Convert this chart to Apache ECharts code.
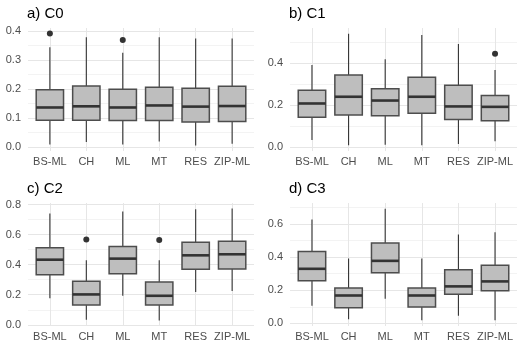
<!DOCTYPE html>
<html lang="en">
<head>
<meta charset="UTF-8">
<title>Boxplots C0-C3</title>
<script src="https://cdn.jsdelivr.net/npm/echarts@6/dist/echarts.min.js"></script>
</head>
<body style="margin:0;background:#fff">
<div id="main" style="width:523px;height:349px"></div>
<script>
var categories = ['BS-ML', 'CH', 'ML', 'MT', 'RES', 'ZIP-ML'];
var panelTitles = ['a) C0', 'b) C1', 'c) C2', 'd) C3'];

// a) C0
var c0Low = [0.008, 0.017, 0.008, 0.019, 0.005, 0.011];
var c0Q1 = [0.092, 0.092, 0.091, 0.091, 0.086, 0.088];
var c0Med = [0.136, 0.140, 0.136, 0.143, 0.139, 0.141];
var c0Q3 = [0.197, 0.210, 0.199, 0.206, 0.202, 0.209];
var c0High = [0.344, 0.378, 0.325, 0.378, 0.374, 0.374];
var c0Out = [[0, 0.391], [2, 0.369]];
// b) C1
var c1Low = [0.033, 0.008, 0.011, 0.008, 0.014, 0.027];
var c1Q1 = [0.141, 0.152, 0.149, 0.160, 0.131, 0.125];
var c1Med = [0.207, 0.239, 0.221, 0.239, 0.193, 0.191];
var c1Q3 = [0.270, 0.343, 0.277, 0.332, 0.294, 0.245];
var c1High = [0.390, 0.539, 0.417, 0.533, 0.490, 0.366];
var c1Out = [[5, 0.444]];
// c) C2
var c2Low = [0.176, 0.033, 0.193, 0.029, 0.218, 0.224];
var c2Q1 = [0.333, 0.131, 0.340, 0.131, 0.369, 0.371];
var c2Med = [0.433, 0.202, 0.440, 0.193, 0.462, 0.469];
var c2Q3 = [0.513, 0.289, 0.520, 0.284, 0.549, 0.556];
var c2High = [0.740, 0.429, 0.753, 0.429, 0.769, 0.773];
var c2Out = [[1, 0.567], [3, 0.564]];
// d) C3
var c3Low = [0.106, 0.024, 0.148, 0.018, 0.046, 0.018];
var c3Q1 = [0.257, 0.094, 0.305, 0.098, 0.175, 0.197];
var c3Med = [0.329, 0.168, 0.377, 0.168, 0.223, 0.253];
var c3Q3 = [0.433, 0.213, 0.485, 0.213, 0.323, 0.351];
var c3High = [0.626, 0.391, 0.692, 0.391, 0.536, 0.550];
var c3Out = [];

// y tick labels (major) and minor grid steps per panel
var yMajor = [[0, 0.1, 0.2, 0.3, 0.4], [0, 0.2, 0.4], [0, 0.2, 0.4, 0.6, 0.8], [0, 0.2, 0.4, 0.6]];
var yMinorStep = [0.05, 0.1, 0.1, 0.1];
var yLimits = [[-0.014, 0.41], [-0.019, 0.566], [-0.008, 0.81], [-0.016, 0.726]];

var panels = [
  [c0Low, c0Q1, c0Med, c0Q3, c0High, c0Out],
  [c1Low, c1Q1, c1Med, c1Q3, c1High, c1Out],
  [c2Low, c2Q1, c2Med, c2Q3, c2High, c2Out],
  [c3Low, c3Q1, c3Med, c3Q3, c3High, c3Out]
];

var grids = [
  {left: 28, top: 28, width: 226, height: 123},
  {left: 290, top: 28, width: 227, height: 123},
  {left: 28, top: 203, width: 226, height: 123},
  {left: 290, top: 203, width: 227, height: 123}
];

var font = '"Liberation Sans", Arial, sans-serif';
var myChart = echarts.init(document.getElementById('main'), null, {renderer: 'canvas'});

// ggplot-like box: whiskers without caps, grey box, thick median
function renderBox(params, api) {
  var x = api.value(0);
  var pLow = api.coord([x, api.value(1)]);
  var pQ1 = api.coord([x, api.value(2)]);
  var pMed = api.coord([x, api.value(3)]);
  var pQ3 = api.coord([x, api.value(4)]);
  var pHigh = api.coord([x, api.value(5)]);
  var hw = api.size([0.75, 0])[0] / 2;
  return {
    type: 'group',
    children: [
      {type: 'line', shape: {x1: pLow[0], y1: pLow[1], x2: pQ1[0], y2: pQ1[1]}, style: {stroke: '#333', lineWidth: 1.1}},
      {type: 'line', shape: {x1: pQ3[0], y1: pQ3[1], x2: pHigh[0], y2: pHigh[1]}, style: {stroke: '#333', lineWidth: 1.1}},
      {type: 'rect', shape: {x: pQ3[0] - hw, y: pQ3[1], width: hw * 2, height: pQ1[1] - pQ3[1]},
        style: {fill: '#bebebe', stroke: '#4d4d4d', lineWidth: 1.5}},
      {type: 'line', shape: {x1: pMed[0] - hw, y1: pMed[1], x2: pMed[0] + hw, y2: pMed[1]}, style: {stroke: '#333', lineWidth: 2.6}}
    ]
  };
}

var xAxes = [], yAxes = [], series = [], titles = [];
panels.forEach(function (p, i) {
  var ticks = [];
  for (var v = 0; v <= yLimits[i][1] + 1e-9; v = Math.round((v + yMinorStep[i]) * 1000) / 1000) {
    ticks.push(v);
  }
  var gridColors = ticks.map(function (t) {
    return yMajor[i].indexOf(t) >= 0 ? '#e6e6e6' : '#f3f3f3';
  });
  titles.push({
    text: panelTitles[i],
    left: grids[i].left - 1,
    top: grids[i].top - 22,
    padding: 0,
    textStyle: {fontFamily: font, fontSize: 15, fontWeight: 'normal', color: '#000'}
  });
  xAxes.push({
    gridIndex: i,
    type: 'value',
    min: -0.6,
    max: 5.6,
    axisLine: {show: false},
    axisTick: {show: false, customValues: [0, 1, 2, 3, 4, 5]},
    axisLabel: {
      customValues: [0, 1, 2, 3, 4, 5],
      margin: 5,
      fontFamily: font,
      fontSize: 11,
      color: '#4d4d4d',
      formatter: function (v) { return categories[Math.round(v)]; }
    },
    splitLine: {show: true, lineStyle: {color: '#e6e6e6', width: 1}}
  });
  yAxes.push({
    gridIndex: i,
    type: 'value',
    min: yLimits[i][0],
    max: yLimits[i][1],
    axisLine: {show: false},
    axisTick: {show: false, customValues: ticks},
    axisLabel: {
      customValues: yMajor[i],
      margin: 7,
      fontFamily: font,
      fontSize: 11,
      color: '#4d4d4d',
      formatter: function (v) { return v.toFixed(1); }
    },
    splitLine: {show: true, lineStyle: {color: gridColors, width: 1}}
  });
  var boxData = categories.map(function (c, k) {
    return [k, p[0][k], p[1][k], p[2][k], p[3][k], p[4][k]];
  });
  series.push({
    type: 'custom',
    xAxisIndex: i,
    yAxisIndex: i,
    renderItem: renderBox,
    encode: {x: 0, y: [1, 2, 3, 4, 5]},
    data: boxData,
    silent: true
  });
  series.push({
    type: 'scatter',
    xAxisIndex: i,
    yAxisIndex: i,
    symbolSize: 6,
    itemStyle: {color: '#333', opacity: 1},
    data: p[5],
    silent: true
  });
});

myChart.setOption({
  animation: false,
  backgroundColor: '#fff',
  title: titles,
  grid: grids,
  xAxis: xAxes,
  yAxis: yAxes,
  series: series
});
</script>
</body>
</html>
